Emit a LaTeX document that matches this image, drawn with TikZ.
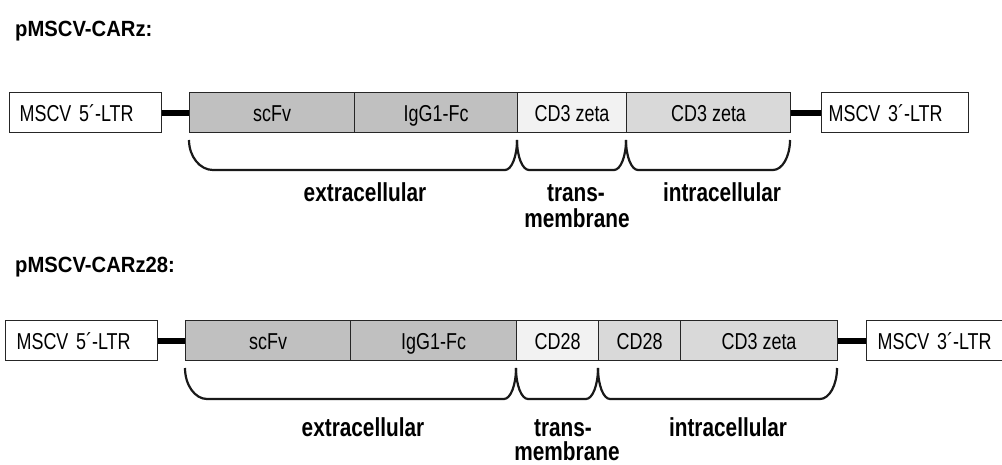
\documentclass[tikz,border=0pt]{standalone}
\usepackage{fontspec}
\setmainfont{Liberation Sans}
\newfontfamily\boxfont[FakeStretch=0.78]{Liberation Sans}
\newfontfamily\lblfont[FakeStretch=0.8]{Liberation Sans}
\newfontfamily\ttlfont[FakeStretch=0.92]{Liberation Sans}
\definecolor{extgray}{HTML}{C0C0C0}
\definecolor{tmgray}{HTML}{F2F2F2}
\definecolor{icgray}{HTML}{D9D9D9}
\newcommand\brk[6]{\draw[brace] (#1,#3) .. controls (#1,{#3+0.55*(#4-#3)}) and ({#1+0.45*#5},#4) .. ({#1+#5},#4) -- ({#2-#6},#4) .. controls ({#2-0.45*#6},#4) and (#2,{#3+0.55*(#4-#3)}) .. (#2,#3);}
\begin{document}
\begin{tikzpicture}[x=1pt,y=-1pt,
  seg/.style={draw=black!85, line width=1.2pt, minimum height=40pt, inner sep=0pt,
    anchor=north west, text height=18pt, text depth=0pt,
    font=\boxfont\fontsize{23}{26}\selectfont},
  ltr/.style={seg, fill=white, align=left},
  ext/.style={seg, fill=extgray},
  tm/.style={seg, fill=tmgray},
  ic/.style={seg, fill=icgray},
  link/.style={line width=6pt, black},
  brace/.style={line width=2.2pt, black!90},
  lbl/.style={anchor=base, inner sep=0pt, font=\lblfont\bfseries\fontsize{26}{28}\selectfont},
  ttl/.style={anchor=base west, inner sep=0pt, font=\ttlfont\bfseries\fontsize{22}{24}\selectfont}]
\useasboundingbox (0,0) rectangle (1002,465);

% ---------- pMSCV-CARz ----------
\node[ttl] (t1) at (15,37) {pMSCV-CARz:};
\node[ltr, inner xsep=10pt, text width=132pt] (a5) at (9,92) {MSCV 5´-LTR};
\node[ext, minimum width=165pt] (ascfv) at (189,92) {scFv};
\node[ext, minimum width=163pt] (aigg) at (354,92) {IgG1-Fc};
\node[tm, minimum width=109pt] (atm) at (517,92) {CD3 zeta\hspace{12pt}};
\node[ic, minimum width=164pt] (aic) at (626,92) {CD3 zeta\hspace{16pt}};
\node[ltr, inner xsep=7pt, text width=133pt] (a3) at (821,92) {MSCV 3´-LTR};
\draw[link] (a5.east) -- (ascfv.west);
\draw[link] (aic.east) -- (a3.west);
\brk{189}{517}{140}{170}{24}{12}
\brk{517}{626}{140}{170}{12}{12}
\brk{626}{790}{140}{170}{12}{17}
\node[lbl] (aextl) at (365,202) {extracellular};
\node[lbl] (atml1) at (576,202) {trans-};
\node[lbl] (atml2) at (577,228) {membrane};
\node[lbl] (aicl) at (722,202) {intracellular};

% ---------- pMSCV-CARz28 ----------
\node[ttl] (t2) at (15,273) {pMSCV-CARz28:};
\node[ltr, inner xsep=11pt, text width=130pt] (b5) at (5,320) {MSCV 5´-LTR};
\node[ext, minimum width=165pt] (bscfv) at (185,320) {scFv};
\node[ext, minimum width=166pt] (bigg) at (350,320) {IgG1-Fc};
\node[tm, minimum width=82pt] (btm) at (516,320) {CD28};
\node[ic, minimum width=82pt] (bcd28) at (598,320) {CD28};
\node[ic, minimum width=157pt] (bcd3) at (680,320) {CD3 zeta\hspace{12pt}};
\node[ltr, inner xsep=11pt, text width=135pt] (b3) at (866,320) {MSCV 3´-LTR};
\draw[link] (b5.east) -- (bscfv.west);
\draw[link] (bcd3.east) -- (b3.west);
\brk{185}{516}{368}{399}{22}{12}
\brk{516}{598}{368}{399}{12}{12}
\brk{598}{837}{368}{399}{12}{17}
\node[lbl] (bextl) at (363,436) {extracellular};
\node[lbl] (btml1) at (563,436) {trans-};
\node[lbl] (btml2) at (567,460) {membrane};
\node[lbl] (bicl) at (728,436) {intracellular};
\end{tikzpicture}
\end{document}
